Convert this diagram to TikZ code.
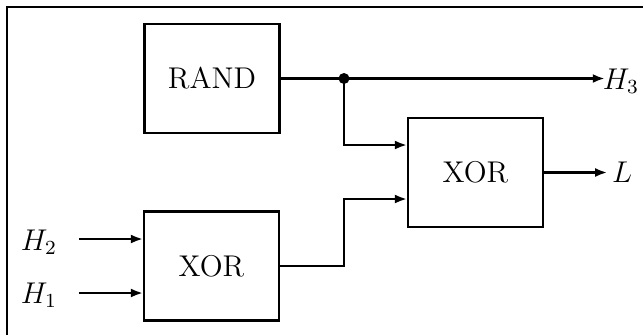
\documentclass[tikz,border=0pt]{standalone}
\usetikzlibrary{arrows.meta,calc}
\begin{document}
\begin{tikzpicture}[x=0.4pt,y=-0.4pt,
  line width=0.9pt,
  every node/.style={font=\fontsize{12}{14}\selectfont},
  blockbox/.style={draw,line width=0.9pt,inner sep=0pt,minimum width=54pt,minimum height=43.6pt},
  sig/.style={-{Latex[length=4.8pt,width=3.6pt]}},
  lbl/.style={inner sep=0pt}]
\useasboundingbox (0,0) rectangle (643,335);
% frame (only top and left visible)
\draw[line width=1.1pt] (7,335) -- (7,7) -- (643,7);
% blocks
\node[blockbox] (RAND) at (212,78.5) {RAND};
\node[blockbox] (XORb) at (475.5,172.5) {XOR};
\node[blockbox] (XORa) at (211.5,266) {XOR};
% labels
\node[lbl] (H3) at (621,81) {$H_3$};
\node[lbl] (L) at (622,172) {$L$};
\node[lbl] (H2) at (39,242) {$H_2$};
\node[lbl] (H1) at (39,295) {$H_1$};
% junction
\coordinate (dot) at (344,78.5);
\fill (dot) circle (2.2pt);
\coordinate (h2s) at (79,239);
\coordinate (h1s) at (79,293);
% connectors
\draw (RAND.east) -- (dot);
\draw[sig] (dot) -- ([xshift=1.2pt]dot -| H3.west);
\draw[sig] (dot) |- ([yshift=11pt]XORb.west);
\draw[sig] (XORa.east) -- ++(64,0) |- ([yshift=-10.6pt]XORb.west);
\draw[sig] (XORb.east) -- ([xshift=-1.5pt]L.west |- XORb.east);
\draw[sig] (h2s) -- (h2s -| XORa.west);
\draw[sig] (h1s) -- (h1s -| XORa.west);
\end{tikzpicture}
\end{document}
